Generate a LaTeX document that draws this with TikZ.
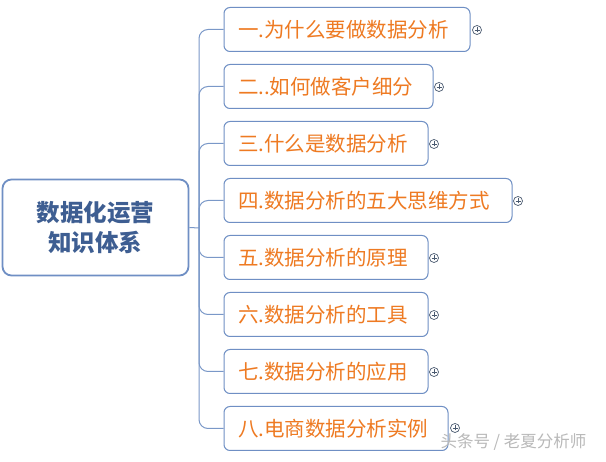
\documentclass[tikz,border=0pt]{standalone}
\usepackage{fontspec}
\setmainfont{Noto Sans CJK SC}
\definecolor{boxline}{HTML}{6F8FC4}
\definecolor{linkc}{HTML}{7A98C8}
\definecolor{orangetxt}{HTML}{EE7A22}
\definecolor{maintxt}{HTML}{3E5E92}
\definecolor{plusc}{HTML}{4A5A70}
\tikzset{
  rootbox/.style={draw=boxline, line width=1.8pt, rounded corners=9pt, fill=white,
    minimum width=186pt, minimum height=96pt, align=center, text=maintxt,
    font=\fontsize{23.5}{30}\selectfont\bfseries, inner sep=0pt},
  childbox/.style={draw=boxline, line width=1pt, rounded corners=6pt, fill=white,
    minimum height=44pt, anchor=west, text=orangetxt, align=left,
    font=\fontsize{20.5}{22}\selectfont, inner xsep=14pt, inner ysep=0pt},
  cw/.style={minimum width=#1pt, text width=#1pt-28pt},
  link/.style={draw=linkc, line width=1pt, rounded corners=9pt},
  plusmark/.style={circle, draw=plusc, line width=0.7pt, minimum size=9pt, inner sep=0pt},
  wm/.style={text=gray!55, font=\fontsize{16.5}{18}\selectfont, anchor=west}
}
\newcommand{\plussign}[1]{%
  \node[plusmark] (#1) at (#1pos) {};
  \draw[plusc, line width=0.7pt] ([xshift=-2.5pt]#1.center) -- ([xshift=2.5pt]#1.center);
  \draw[plusc, line width=0.7pt] ([yshift=-2.5pt]#1.center) -- ([yshift=2.5pt]#1.center);
}
\begin{document}
\begin{tikzpicture}[x=1pt,y=-1pt]
\useasboundingbox (0,0) rectangle (606,462);
\fill[white] (0,0) rectangle (606,462);

\node[rootbox] (root) at (95.5,227.5) {数据化运营\\知识体系};
\coordinate (j) at (199,228);

\node[childbox, minimum width=246pt, text width=218pt] (c1) at (223.5,29.5) {一.为什么要做数据分析};
\node[childbox, minimum width=209pt, text width=181pt] (c2) at (223.5,86.5) {二..如何做客户细分};
\node[childbox, minimum width=204pt, text width=176pt] (c3) at (223.5,143.5) {三.什么是数据分析};
\node[childbox, minimum width=288pt, text width=260pt] (c4) at (223.5,200.5) {四.数据分析的五大思维方式};
\node[childbox, minimum width=204pt, text width=176pt] (c5) at (223.5,257.5) {五.数据分析的原理};
\node[childbox, minimum width=204pt, text width=176pt] (c6) at (223.5,314.5) {六.数据分析的工具};
\node[childbox, minimum width=204pt, text width=176pt] (c7) at (223.5,371.5) {七.数据分析的应用};
\node[childbox, minimum width=224pt, text width=196pt] (c8) at (223.5,428.5) {八.电商数据分析实例};

\draw[link] (root.east) -- (j);
\foreach \c in {c1,c2,c3,c4,c5,c6,c7,c8}{
  \draw[link] (j) |- (\c.west);
}

\coordinate (p1pos) at (477,30);
\coordinate (p2pos) at (439,87);
\coordinate (p3pos) at (434,144);
\coordinate (p4pos) at (518,201);
\coordinate (p5pos) at (434,258);
\coordinate (p6pos) at (434,315);
\coordinate (p7pos) at (434,372);
\coordinate (p8pos) at (455,428);
\plussign{p1}\plussign{p2}\plussign{p3}\plussign{p4}
\plussign{p5}\plussign{p6}\plussign{p7}\plussign{p8}

\node[wm] (wmark) at (437,442) {头条号 / 老夏分析师};
\end{tikzpicture}
\end{document}
